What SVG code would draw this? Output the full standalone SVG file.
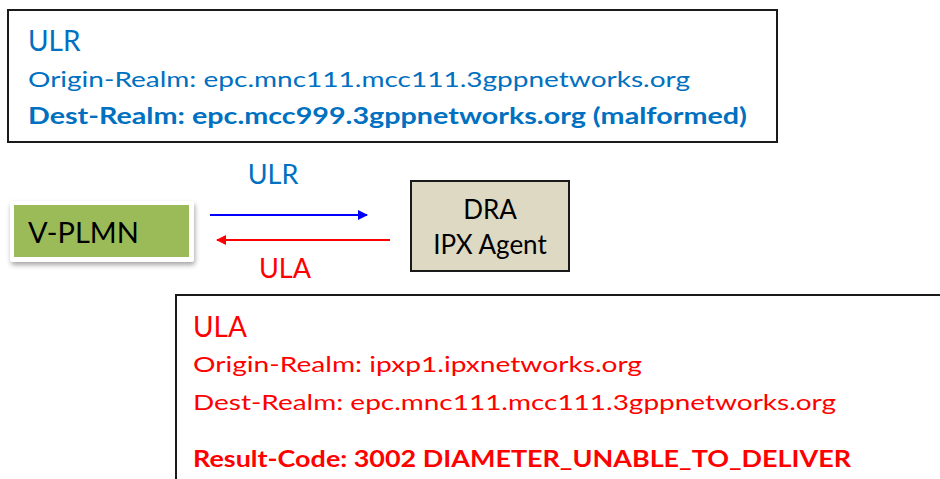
<svg xmlns="http://www.w3.org/2000/svg" width="940" height="479" viewBox="0 0 940 479">
<defs>
<style>
text{font-family:Lato,"Open Sans","Liberation Sans",sans-serif}
.box{fill:#fff;stroke:#1a1a1a;stroke-width:2}
.blue{fill:#0070C0}
.red{fill:#FF0000}
.big{font-size:28px}
.mid{font-size:22px}
.b{font-weight:bold}
</style>
<marker id="ab" markerWidth="10" markerHeight="10" refX="9" refY="5" orient="auto" markerUnits="userSpaceOnUse"><path d="M0,0 L10,5 L0,10 Z" fill="#0000FF"/></marker>
<marker id="ar" markerWidth="10" markerHeight="10" refX="9" refY="5" orient="auto" markerUnits="userSpaceOnUse"><path d="M0,0 L10,5 L0,10 Z" fill="#FF0000"/></marker>
<filter id="sh" x="-10%" y="-20%" width="130%" height="150%"><feDropShadow dx="1" dy="3" stdDeviation="2.5" flood-color="#000" flood-opacity="0.35"/></filter>
</defs>
<g id="ulr-box">
<rect class="box" x="8" y="10" width="769" height="132"/>
<text class="blue big" x="28" y="51">ULR</text>
<text class="blue mid" x="28" y="87" textLength="662" lengthAdjust="spacingAndGlyphs">Origin-Realm: epc.mnc111.mcc111.3gppnetworks.org</text>
<text class="blue mid b" x="28" y="124" textLength="719" lengthAdjust="spacingAndGlyphs">Dest-Realm: epc.mcc999.3gppnetworks.org (malformed)</text>
</g>
<g id="vplmn">
<rect x="10" y="201" width="184" height="61" rx="3" fill="#fff" filter="url(#sh)"/>
<rect x="14" y="205" width="175" height="52" fill="#9BBB59"/>
<text x="28" y="243" font-size="29" fill="#000">V-PLMN</text>
</g>
<g id="dra">
<rect x="411" y="181" width="158" height="90" fill="#DDD9C3" stroke="#1a1a1a" stroke-width="2"/>
<text x="490" y="219" font-size="26" text-anchor="middle" fill="#000">DRA</text>
<text x="490" y="254" font-size="26" text-anchor="middle" fill="#000">IPX Agent</text>
</g>
<g id="connectors">
<line x1="210" y1="215" x2="367" y2="215" stroke="#0000FF" stroke-width="2" marker-end="url(#ab)"/>
<text class="blue" font-size="27" x="273" y="184" text-anchor="middle">ULR</text>
<line x1="390" y1="240" x2="217" y2="240" stroke="#FF0000" stroke-width="2" marker-end="url(#ar)"/>
<text class="red" font-size="27" x="285" y="278" text-anchor="middle">ULA</text>
</g>
<g id="ula-box">
<rect class="box" x="176" y="295" width="780" height="200"/>
<text class="red big" x="193" y="337">ULA</text>
<text class="red mid" x="193" y="372" textLength="449" lengthAdjust="spacingAndGlyphs">Origin-Realm: ipxp1.ipxnetworks.org</text>
<text class="red mid" x="193" y="410" textLength="643" lengthAdjust="spacingAndGlyphs">Dest-Realm: epc.mnc111.mcc111.3gppnetworks.org</text>
<text class="red mid b" x="193" y="467" textLength="658" lengthAdjust="spacingAndGlyphs">Result-Code: 3002 DIAMETER_UNABLE_TO_DELIVER</text>
</g>
</svg>
